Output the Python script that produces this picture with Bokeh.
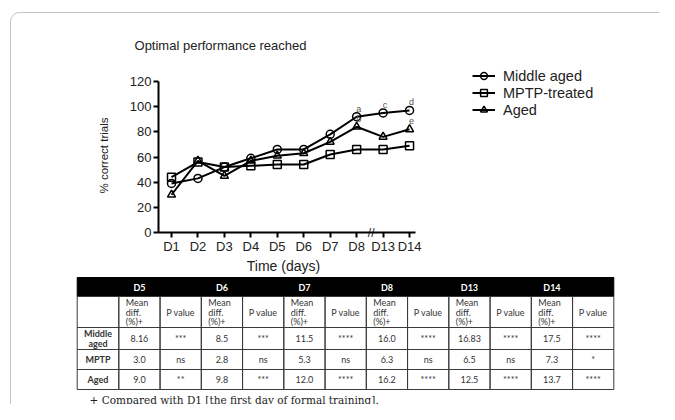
import math
from bokeh.plotting import figure
from bokeh.models import Legend, LegendItem, FixedTicker, Range1d, ColumnDataSource
from bokeh.core.properties import value
from bokeh.embed import file_html
from bokeh.resources import INLINE

# ---------------- data ----------------
days = ["D1", "D2", "D3", "D4", "D5", "D6", "D7", "D8", "D13", "D14"]
middle_aged = [39, 43, 52, 59, 66, 66, 78, 92, 95, 97]
mptp_treated = [44, 56, 52, 53, 54, 54, 62, 66, 66, 69]
aged = [30, 57, 45, 57, 61, 63, 72, 84, 76, 82]
y_ticks = [0, 20, 40, 60, 80, 100, 120]

sig_letters = ["a", "b", "c", "d", "e"]
sig_day = ["D8", "D8", "D13", "D14", "D14"]
sig_series = ["middle", "aged", "middle", "middle", "aged"]

table_days = ["D5", "D6", "D7", "D8", "D13", "D14"]
row_names = [["Middle", "aged"], ["MPTP"], ["Aged"]]
md_middle = ["8.16", "8.5", "11.5", "16.0", "16.83", "17.5"]
p_middle = ["***", "***", "****", "****", "****", "****"]
md_mptp = ["3.0", "2.8", "5.3", "6.3", "6.5", "7.3"]
p_mptp = ["ns", "ns", "ns", "ns", "ns", "*"]
md_aged = ["9.0", "9.8", "12.0", "16.2", "12.5", "13.7"]
p_aged = ["**", "***", "****", "****", "****", "****"]
footnote = "+ Compared with D1 [the first day of formal training]."

# ---------------- layout (canvas pixels) ----------------
W, H = 659, 404
X_ORIGIN, X_STEP = 171.0, 26.45        # canvas x of D1, px per day
Y_ORIGIN, Y_STEP = 232.0, 151.0 / 120  # canvas y of 0 %, px per %
AX_LEFT, AX_RIGHT = 158.0, 415.0


def dx(cx):
    return (cx - X_ORIGIN) / X_STEP


def dy(cy):
    return (Y_ORIGIN - cy) / Y_STEP


p = figure(width=W, height=H, output_backend="svg", toolbar_location=None,
           x_range=Range1d(dx(0), dx(W)), y_range=Range1d(dy(H), dy(0)),
           min_border_left=0, min_border_right=0, min_border_top=0,
           min_border_bottom=0)
p.outline_line_color = None
p.grid.visible = False
p.background_fill_color = "white"
p.border_fill_color = "white"

SANS = "Liberation Sans"


def txt(xs, ys, texts, size, color="#333333", align="center", bold=False,
        font="Lato", baseline="middle", angle=0.0):
    src = ColumnDataSource(dict(x=[dx(v) for v in xs], y=[dy(v) for v in ys], t=texts))
    p.text(x="x", y="y", text="t", source=src, text_font=value(font),
           text_font_size=size, text_color=color, text_align=align,
           text_baseline=baseline, angle=angle,
           text_font_style="bold" if bold else "normal")


# outer rounded frame
BL, BT, BR = 10, 12, 9
p.segment(x0=[dx(BL + BR), dx(BL)], y0=[dy(BT), dy(BT + BR)],
          x1=[dx(W + 5), dx(BL)], y1=[dy(BT), dy(H + 5)],
          line_color="#c4c4c4", line_width=1)
p.arc(x=[dx(BL + BR)], y=[dy(BT + BR)], radius=BR, radius_units="screen",
      start_angle=math.pi / 2, end_angle=math.pi, line_color="#c4c4c4", line_width=1)

# ---------------- chart ----------------
xs = list(range(len(days)))
series = [("Middle aged", middle_aged, "circle"),
          ("MPTP-treated", mptp_treated, "square"),
          ("Aged", aged, "triangle")]
items = []
for name, vals, marker in series:
    ln = p.line(xs, vals, line_color="black", line_width=2)
    sc = p.scatter(xs, vals, marker=marker, size=8, line_color="black",
                   line_width=1.5, fill_color=None)
    items.append(LegendItem(label=name, renderers=[ln, sc]))

legend = Legend(items=items, location=(472, H - 118), label_text_font=SANS,
                label_text_font_size="14.5px", label_text_color="#222222",
                label_height=17, glyph_height=17, glyph_width=23, spacing=0,
                padding=0, margin=0, border_line_color=None,
                background_fill_alpha=0, label_standoff=8)
p.add_layout(legend)

series_map = {"middle": middle_aged, "aged": aged}
sig_x = [days.index(d) for d in sig_day]
sig_y = [series_map[s][days.index(d)] for s, d in zip(sig_series, sig_day)]
p.text(x=sig_x, y=sig_y, text=sig_letters, x_offset=2, y_offset=-8,
       text_font=value(SANS), text_font_size="9px",
       text_color="#555555", text_align="center", text_baseline="middle")

# axes, drawn at fixed locations inside the canvas-sized frame
for ax in (p.xaxis[0], p.yaxis[0]):
    ax.axis_line_width = 2
    ax.axis_line_color = "black"
    ax.major_tick_line_width = 2
    ax.major_tick_line_color = "black"
    ax.major_tick_out = 5
    ax.major_tick_in = 0
    ax.minor_tick_line_color = None
    ax.major_label_text_font = SANS
    ax.major_label_text_font_size = "13px"
    ax.major_label_text_color = "#222222"

p.xaxis.ticker = FixedTicker(ticks=xs)
p.xaxis.major_label_overrides = {i: d for i, d in enumerate(days)}
p.xaxis.major_label_standoff = 1
p.xaxis.fixed_location = 0
p.xaxis.bounds = (dx(AX_LEFT), dx(AX_RIGHT))

p.yaxis.ticker = FixedTicker(ticks=y_ticks)
p.yaxis.major_label_standoff = 2
p.yaxis.fixed_location = dx(AX_LEFT)
p.yaxis.bounds = (y_ticks[0], y_ticks[-1])

# axis titles, chart title, axis break
txt([283], [265], ["Time (days)"], "14px", color="#222222", font=SANS)
txt([103], [155], ["% correct trials"], "11.5px", color="#222222", font=SANS,
    angle=math.pi / 2)
txt([220], [45], ["Optimal performance reached"], "13px", color="#222222", font=SANS)
p.text(x=[7.55], y=[0], text=["//"], text_font=value(SANS), text_font_size="12px",
       text_color="#222222", text_align="center", text_baseline="middle")

# ---------------- table ----------------
col_edges = [76.7, 118.3] + [118.3 + 41.25 * k for k in range(1, 13)]
row_edges = [277.0, 296.0, 327.0, 349.0, 369.0, 389.0]

p.quad(left=[dx(col_edges[0])], right=[dx(col_edges[-1])],
       top=[dy(row_edges[0])], bottom=[dy(row_edges[1])],
       fill_color="black", line_color="black")
cl, cr, ct, cb = [], [], [], []
for r in range(1, 5):
    for c in range(13):
        cl.append(dx(col_edges[c]))
        cr.append(dx(col_edges[c + 1]))
        ct.append(dy(row_edges[r]))
        cb.append(dy(row_edges[r + 1]))
p.quad(left=cl, right=cr, top=ct, bottom=cb, fill_color=None,
       line_color="#3a3a3a", line_width=1)


def ccx(c):
    return (col_edges[c] + col_edges[c + 1]) / 2


def ccy(r):
    return (row_edges[r] + row_edges[r + 1]) / 2


TS = "9px"
txt([ccx(1 + 2 * k) for k in range(6)], [ccy(0)] * 6, table_days, TS,
    color="white", bold=True)
hx, hy, ht = [], [], []
for k in range(6):
    for j, part in enumerate(["Mean", "diff.", "(%)+"]):
        hx.append(col_edges[1 + 2 * k] + 7)
        hy.append(ccy(1) + (j - 1) * 9.5)
        ht.append(part)
txt(hx, hy, ht, TS, align="left")
txt([ccx(2 + 2 * k) for k in range(6)], [ccy(1)] * 6, ["P value"] * 6, TS)

rows = [(md_middle, p_middle), (md_mptp, p_mptp), (md_aged, p_aged)]
nx, ny, nt = [], [], []
vx, vy, vt = [], [], []
for r, (md, pv) in enumerate(rows):
    rr = r + 2
    names = row_names[r]
    for j, nm in enumerate(names):
        nx.append(ccx(0))
        ny.append(ccy(rr) + (j - (len(names) - 1) / 2) * 9.5)
        nt.append(nm)
    for k in range(6):
        vx += [ccx(1 + 2 * k), ccx(2 + 2 * k)]
        vy += [ccy(rr), ccy(rr)]
        vt += [md[k], pv[k]]
txt(nx, ny, nt, TS, bold=True)
txt(vx, vy, vt, TS)

txt([89], [399], [footnote], "10.5px", color="#222222", align="left",
    font="DejaVu Serif", baseline="alphabetic")

open("out.html", "w").write(file_html(p, INLINE))
